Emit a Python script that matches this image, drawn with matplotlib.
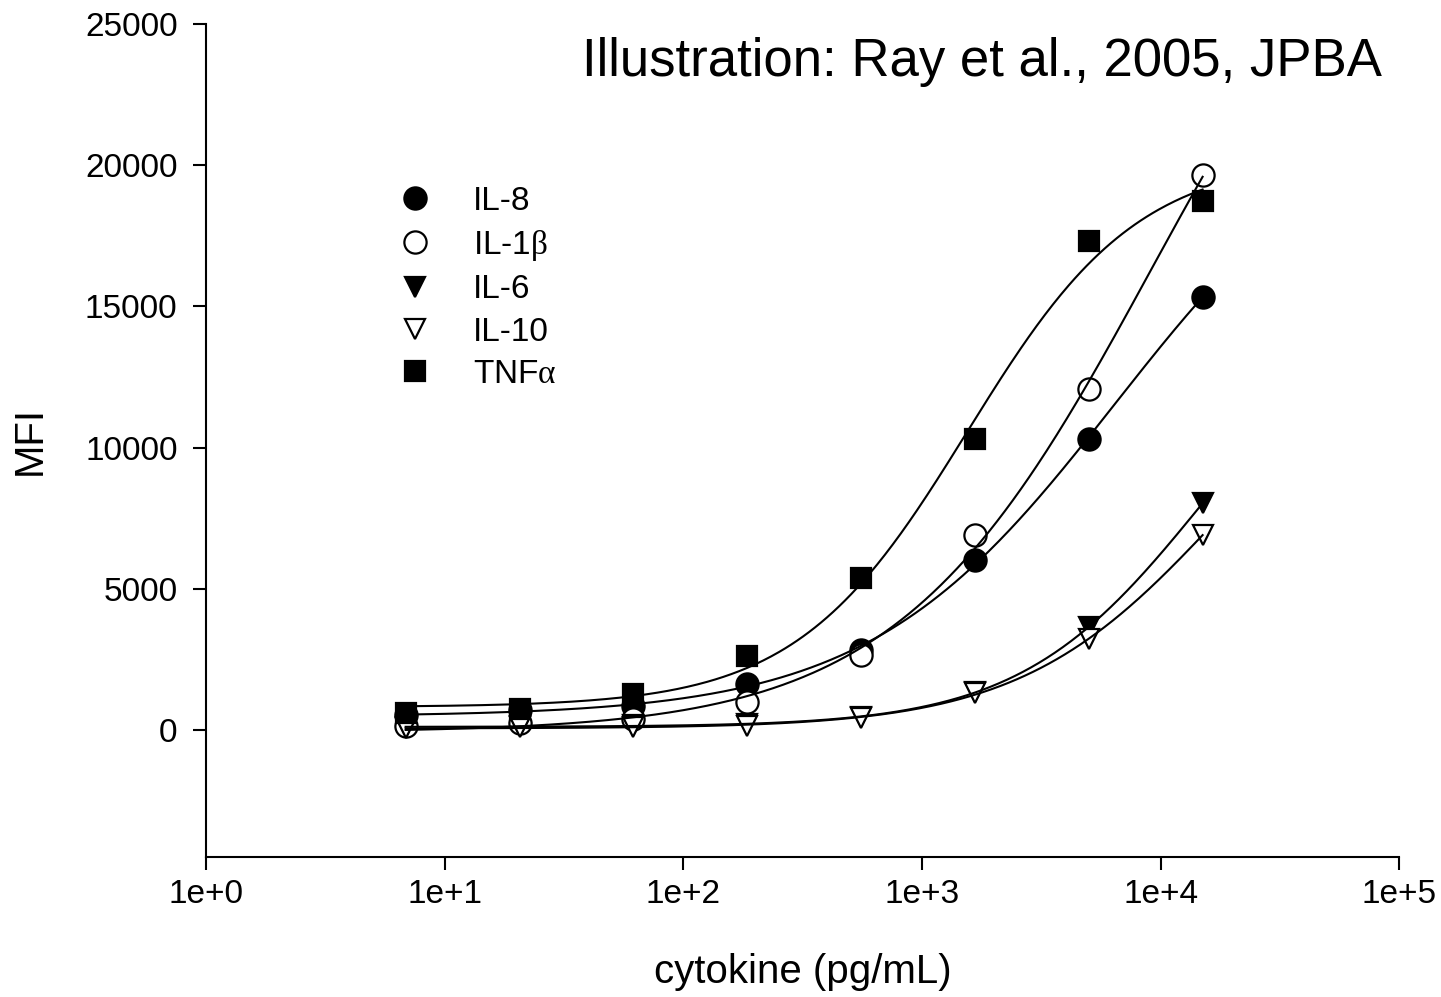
import numpy as np
import matplotlib
matplotlib.use('Agg')
import matplotlib.pyplot as plt
from matplotlib.lines import Line2D

plt.rcParams['font.family'] = ['Liberation Sans', 'DejaVu Sans']
plt.rcParams['mathtext.fontset'] = 'custom'
plt.rcParams['mathtext.rm'] = 'Liberation Serif'
plt.rcParams['mathtext.it'] = 'Liberation Serif'

# 3-fold dilution series (pg/mL)
conc = [6.86, 20.6, 61.7, 185, 556, 1667, 5000, 15000]

il8 = [530, 700, 850, 1630, 2830, 6010, 10290, 15350]
il1b = [140, 250, 390, 990, 2650, 6900, 12060, 19660]
il6 = [100, 140, 160, 200, 450, 1350, 3640, 8030]
il10 = [60, 100, 110, 140, 420, 1300, 3220, 6900]
tnfa = [600, 740, 1270, 2620, 5370, 10320, 17330, 18740]

labels = ['IL-8', r'IL-1$\mathrm{\beta}$', 'IL-6', 'IL-10', r'TNF$\mathrm{\alpha}$']
series = [il8, il1b, il6, il10, tnfa]
markers = ['o', 'o', 'v', 'v', 's']
fills = ['black', 'white', 'black', 'white', 'black']
msizes = [16, 16, 15, 15, 14]

xticks = [1, 10, 100, 1000, 10000, 100000]
xticklabels = ['1e+0', '1e+1', '1e+2', '1e+3', '1e+4', '1e+5']
yticks = [0, 5000, 10000, 15000, 20000, 25000]


def fit_4pl(x, y):
    # four parameter logistic, grid over ec50 and slope, linear solve for
    # the two asymptotes
    lx = np.log10(np.asarray(x, float))
    y = np.asarray(y, float)
    lc = np.linspace(0.5, 7, 651)
    b = np.linspace(0.3, 4, 371)
    g = 1.0 / (1.0 + 10 ** ((lx[None, None, :] - lc[:, None, None]) * b[None, :, None]))
    n = len(y)
    sg = g.sum(-1)
    sgg = (g * g).sum(-1)
    sy = y.sum()
    sgy = (g * y).sum(-1)
    det = n * sgg - sg ** 2
    det = np.where(np.abs(det) < 1e-12, 1e-12, det)
    d = (sy * sgg - sg * sgy) / det
    e = (n * sgy - sg * sy) / det
    sse = ((y - d[..., None] - e[..., None] * g) ** 2).sum(-1)
    i, j = np.unravel_index(np.argmin(sse), sse.shape)
    c0, b0, d0, e0 = lc[i], b[j], d[i, j], e[i, j]
    return lambda xx: d0 + e0 / (1.0 + 10 ** ((np.log10(xx) - c0) * b0))


fig = plt.figure(figsize=(14.41, 9.97), dpi=100)
ax = fig.add_axes([0.143, 0.1404, 0.828, 0.8355])

xs = np.logspace(np.log10(conc[0]), np.log10(conc[-1]), 400)
handles = []
for vals, lab, m, fc, ms in zip(series, labels, markers, fills, msizes):
    ax.plot(conc, vals, linestyle='none', marker=m, ms=ms, mfc=fc,
            mec='black', mew=1.6, zorder=3)
    f = fit_4pl(conc, vals)
    ax.plot(xs, f(xs), color='black', lw=1.5, zorder=4)
    handles.append(Line2D([], [], linestyle='none', marker=m, ms=ms,
                          mfc=fc, mec='black', mew=1.6, label=lab))

ax.set_xscale('log')
ax.set_xlim(1, 100000)
ax.set_ylim(-4500, 25000)
ax.set_xticks(xticks)
ax.set_xticklabels(xticklabels)
ax.minorticks_off()
ax.set_yticks(yticks)
ax.tick_params(direction='out', length=9.5, width=1.5, labelsize=24)
ax.tick_params(axis='y', pad=11)
ax.tick_params(axis='x', pad=6)
for s in ['top', 'right']:
    ax.spines[s].set_visible(False)
for s in ['left', 'bottom']:
    ax.spines[s].set_linewidth(1.5)

ax.set_ylabel('MFI', fontsize=29, labelpad=26)
ax.set_xlabel('cytokine (pg/mL)', fontsize=29, labelpad=31)

ax.legend(handles=handles, loc='upper left', bbox_to_anchor=(0.161, 0.806),
          frameon=False, fontsize=24, handlelength=1.0, handletextpad=1.25,
          labelspacing=0.34, borderaxespad=0, borderpad=0)

fig.text(0.404, 0.938, 'Illustration: Ray et al., 2005, JPBA', fontsize=38,
         va='center', ha='left')

fig.savefig('out.png', dpi=100)
